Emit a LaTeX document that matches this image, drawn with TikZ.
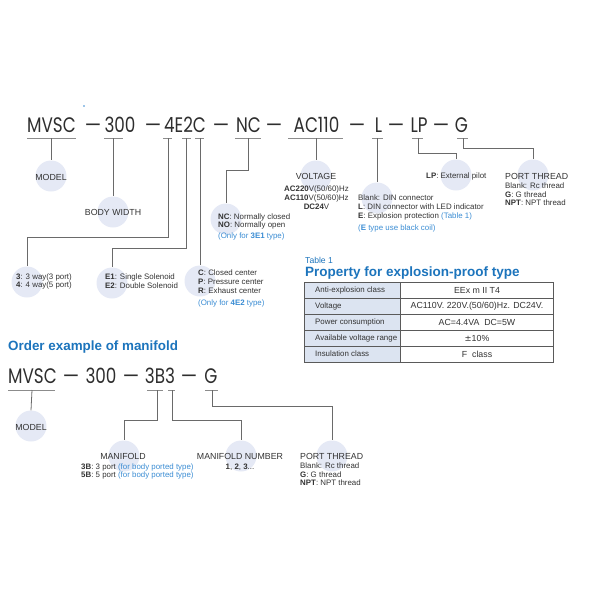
\documentclass[tikz,border=0pt]{standalone}
\usepackage{fontspec}
\setmainfont{Liberation Sans}
\newfontfamily\codefont{Poppins}
\usetikzlibrary{calc}
\definecolor{codegray}{HTML}{2E2E2E}
\definecolor{linegray}{HTML}{6A6A6A}
\definecolor{ulgray}{HTML}{8C8C8C}
\definecolor{circfill}{HTML}{E5E9F5}
\definecolor{titleblue}{HTML}{1C74BC}
\definecolor{noteblue}{HTML}{3A8CD3}
\definecolor{txtgray}{HTML}{333333}
\definecolor{tabfill}{HTML}{DCE4F1}
\definecolor{tabline}{HTML}{5A5A5A}
\tikzset{
  code/.style={inner sep=0pt, anchor=base, text=codegray, font=\codefont\fontsize{21}{21}\selectfont},
  uline/.style={draw=ulgray, line width=0.9pt},
  conn/.style={draw=linegray, line width=0.8pt},
  bubble/.style={circle, fill=circfill, minimum size=31pt, inner sep=0pt},
  head/.style={inner sep=0pt, text=txtgray, font=\fontsize{8.8}{10}\selectfont},
  small/.style={inner sep=0pt, anchor=west, text=txtgray, font=\fontsize{7.9}{9}\selectfont},
  note/.style={small, text=noteblue},
  tabtxt/.style={inner sep=0pt, text=txtgray, font=\fontsize{7.9}{9}\selectfont},
  tabval/.style={inner sep=0pt, text=txtgray, font=\fontsize{8.8}{10}\selectfont},
  ttl/.style={inner sep=0pt, anchor=west, text=titleblue, font=\bfseries\fontsize{13.5}{15}\selectfont},
}
\newcommand{\cw}[1]{\scalebox{0.8}[1]{#1}}
\newcommand{\dsh}{\scalebox{0.88}[1]{—}}
\begin{document}
\begin{tikzpicture}[x=1pt,y=-1pt]
\useasboundingbox (0,0) rectangle (600,600);
\fill[noteblue] (84,106) circle (0.9);

% ---------- main code row ----------
\node[code] (mvsc) at (51.5,132) {\cw{MVSC}};
\node[code] (d1) at (93,132) {\dsh};
\node[code] (n300) at (120,132) {\cw{300}};
\node[code] (d2) at (153,132) {\dsh};
\node[code] (n4e2c) at (185,132) {\cw{4E2C}};
\node[code] (d3) at (221,132) {\dsh};
\node[code] (nnc) at (248.5,132) {\cw{NC}};
\node[code] (d4) at (274,132) {\dsh};
\node[code] (nac) at (316.5,132) {\cw{AC110}};
\node[code] (d5) at (357,132) {\dsh};
\node[code] (nl) at (378.5,132) {\cw{L}};
\node[code] (d6) at (396,132) {\dsh};
\node[code] (nlp) at (419,132) {\cw{LP}};
\node[code] (d7) at (441,132) {\dsh};
\node[code] (ng) at (461.5,132) {\cw{G}};

% underlines
\draw[uline] (27,138) -- (76,138);
\draw[uline] (104,138) -- (123,138);
\draw[uline] (163,138) -- (172,138);
\draw[uline] (182,138) -- (191,138);
\draw[uline] (195,138) -- (204,138);
\draw[uline] (235,138) -- (261,138);
\draw[uline] (288,138) -- (343,138);
\draw[uline] (372,138) -- (383,138);
\draw[uline] (412,138) -- (423,138);
\draw[uline] (457,138) -- (468,138);

\coordinate (uMVSC) at (51,138);
\coordinate (u300) at (113,138);
\coordinate (u4) at (168,138);
\coordinate (uE) at (186.5,138);
\coordinate (uC) at (200,138);
\coordinate (uNC) at (248,138);
\coordinate (uAC) at (316,138);
\coordinate (uL) at (377,138);
\coordinate (uLP) at (418,138);
\coordinate (uG) at (463,138);

% bubbles
\node[bubble] (bModel) at (51,176) {};
\node[bubble] (bBody) at (113,212) {};
\node[bubble] (bWay) at (27,282) {};
\node[bubble] (bSol) at (112,283) {};
\node[bubble] (bCen) at (200,281) {};
\node[bubble] (bNC) at (226,219) {};
\node[bubble] (bVolt) at (316,176) {};
\node[bubble] (bL) at (377,198) {};
\node[bubble] (bLP) at (456,175) {};
\node[bubble] (bPT) at (533,175) {};

% connectors
\draw[conn] (uMVSC) -- (bModel.north);
\draw[conn] (u300) -- (bBody.north);
\draw[conn] (u4) -- ++(0,99) -| (bWay.north);
\draw[conn] (uE) -- ++(0,110) -| (bSol.north);
\draw[conn] (uC) -- (bCen.north);
\draw[conn] (uNC) -- ++(0,32) -| (bNC.north);
\draw[conn] (uAC) -- (bVolt.north);
\draw[conn] (uL) -- (bL.north);
\draw[conn] (uLP) -- ++(0,15) -| (bLP.north);
\draw[conn] (uG) -- ++(0,10) -| (bPT.north);

% labels
\node[head] (tModel) at (51,177) {MODEL};
\node[head] (tBody) at (113,212) {BODY WIDTH};
\node[head] (tVolt) at (316,176) {VOLTAGE};
\node[tabtxt] (v1) at (316.5,189) {\textbf{AC220}V(50/60)Hz};
\node[tabtxt] (v2) at (316.5,198) {\textbf{AC110}V(50/60)Hz};
\node[tabtxt] (v3) at (316.5,207) {\textbf{DC24}V};

\node[small] (nc1) at (218,217) {\textbf{NC}: Normally closed};
\node[small] (nc2) at (218,225.5) {\textbf{NO}: Normally open};
\node[note] (nc3) at (218,236) {(Only for \textbf{3E1} type)};

\node[small] (l1) at (358,198) {Blank: DIN connector};
\node[small] (l2) at (358,207) {\textbf{L}: DIN connector with LED indicator};
\node[small] (l3) at (358,216) {\textbf{E}: Explosion protection \textcolor{noteblue}{(Table 1)}};
\node[note] (l4) at (358,228) {(\textbf{E} type use black coil)};

\node[small] (lp1) at (426,176) {\textbf{LP}: External pilot};

\node[head, anchor=west] (tPT) at (505,176) {PORT THREAD};
\node[small] (pt1) at (505,186) {Blank: Rc thread};
\node[small] (pt2) at (505,194.5) {\textbf{G}: G thread};
\node[small] (pt3) at (505,203) {\textbf{NPT}: NPT thread};

\node[small] (w1) at (16,277) {\textbf{3}: 3 way(3 port)};
\node[small] (w2) at (16,285.5) {\textbf{4}: 4 way(5 port)};

\node[small] (s1) at (105,277) {\textbf{E1}: Single Solenoid};
\node[small] (s2) at (105,286) {\textbf{E2}: Double Solenoid};

\node[small] (c1) at (198,273) {\textbf{C}: Closed center};
\node[small] (c2) at (198,282) {\textbf{P}: Pressure center};
\node[small] (c3) at (198,291) {\textbf{R}: Exhaust center};
\node[note] (c4) at (198,303) {(Only for \textbf{4E2} type)};

% ---------- table ----------
\node[inner sep=0pt, anchor=west, text=titleblue, font=\fontsize{8.6}{10}\selectfont] (tab1) at (305,260) {Table 1};
\node[ttl] (tabttl) at (305,273) {Property for explosion-proof type};
\fill[tabfill] (304,282) rectangle (400,362);
\fill[white] (400,282) rectangle (553,362);
\foreach \yy in {298,314,330,346} \draw[tabline, line width=0.6pt] (304,\yy) -- (553,\yy);
\draw[tabline, line width=0.6pt] (400,282) -- (400,362);
\draw[tabline, line width=1pt] (304,282) rectangle (553,362);
\node[tabtxt, anchor=west] (r1a) at (315,290) {Anti-explosion class};
\node[tabtxt, anchor=west] (r2a) at (315,306) {Voltage};
\node[tabtxt, anchor=west] (r3a) at (315,322) {Power consumption};
\node[tabtxt, anchor=west] (r4a) at (315,338) {Available voltage range};
\node[tabtxt, anchor=west] (r5a) at (315,354) {Insulation class};
\node[tabval] (r1b) at (477,290) {EEx m II T4};
\node[tabval] (r2b) at (477,306) {AC110V. 220V.(50/60)Hz. DC24V.};
\node[tabval] (r3b) at (477,322) {AC=4.4VA\ \ DC=5W};
\node[tabval] (r4b) at (477,338) {\fontspec{DejaVu Sans}\fontsize{8.4}{10}\selectfont±\fontspec{Liberation Sans}\fontsize{8.8}{10}\selectfont 10\%};
\node[tabval] (r5b) at (477,354) {F\ \ class};

% ---------- manifold ----------
\node[ttl, font=\bfseries\fontsize{13.4}{15}\selectfont] (mtitle) at (8,347) {Order example of manifold};
\node[code] (m1) at (32.5,383) {\cw{MVSC}};
\node[code] (md1) at (71,383) {\dsh};
\node[code] (m2) at (101,383) {\cw{300}};
\node[code] (md2) at (131,383) {\dsh};
\node[code] (m3) at (160,383) {\cw{3B3}};
\node[code] (md3) at (189,383) {\dsh};
\node[code] (m4) at (211,383) {\cw{G}};

\draw[uline] (8,390) -- (55,390);
\draw[uline] (147,390) -- (163,390);
\draw[uline] (168,390) -- (175,390);
\draw[uline] (205,390) -- (218,390);

\coordinate (uM2) at (32,390);
\coordinate (u3B) at (157,390);
\coordinate (u3) at (172,390);
\coordinate (uG2) at (212,390);

\node[bubble] (bM2) at (31,426) {};
\node[bubble] (bMan) at (124,456) {};
\node[bubble] (bNum) at (241,456) {};
\node[bubble] (bPT2) at (332,456) {};

\draw[conn] (uM2) -- (bM2.north);
\draw[conn] (u3B) -- ++(0,30) -| (bMan.north);
\draw[conn] (u3) -- ++(0,30) -| (bNum.north);
\draw[conn] (uG2) -- ++(0,16) -| (bPT2.north);

\node[head] (tM2) at (31,427) {MODEL};
\node[head] (tMan) at (123,456) {MANIFOLD};
\node[small] (mn1) at (81,467) {\textbf{3B}: 3 port \textcolor{noteblue}{(for body ported type)}};
\node[small] (mn2) at (81,475.5) {\textbf{5B}: 5 port \textcolor{noteblue}{(for body ported type)}};
\node[head] (tNum) at (240,456) {MANIFOLD NUMBER};
\node[tabtxt] (num1) at (240,467) {\textbf{1}, \textbf{2}, \textbf{3}...};
\node[head, anchor=west] (tPT2) at (300,456) {PORT THREAD};
\node[small] (p21) at (300,466) {Blank: Rc thread};
\node[small] (p22) at (300,474.5) {\textbf{G}: G thread};
\node[small] (p23) at (300,483) {\textbf{NPT}: NPT thread};
\end{tikzpicture}
\end{document}
